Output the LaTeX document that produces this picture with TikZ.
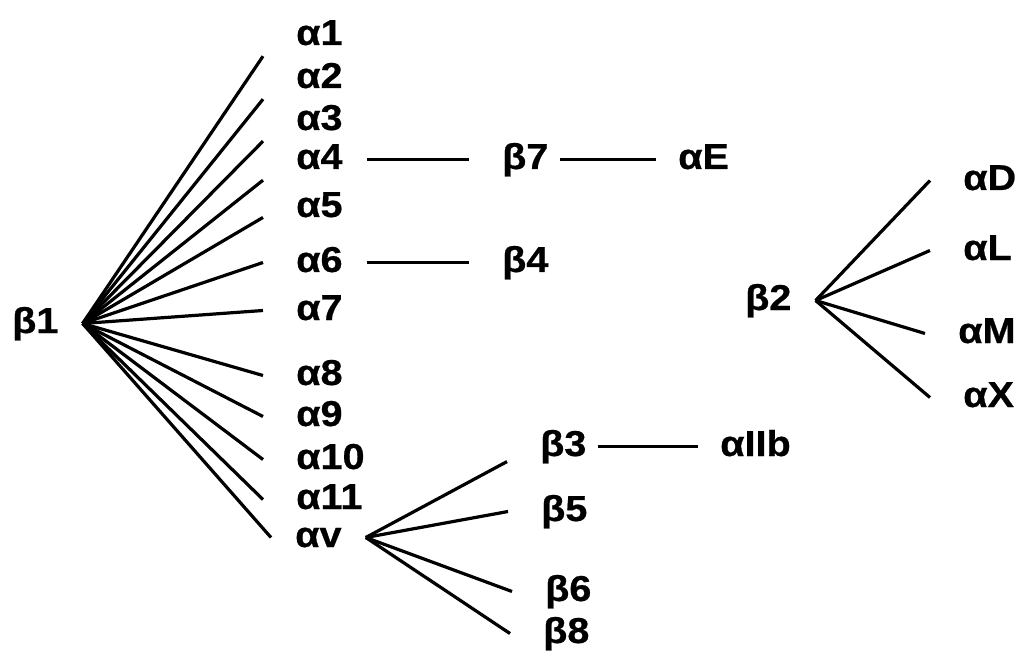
\documentclass[tikz,border=0pt]{standalone}
\usepackage{fontspec}
\setmainfont{Liberation Sans}[BoldFeatures={FakeStretch=1.1, FakeBold=0.6}]
\begin{document}
\begin{tikzpicture}[x=1pt,y=-1pt,
    lbl/.style={font=\fontsize{36}{40}\selectfont\bfseries, anchor=base west,
      inner xsep=33pt, inner ysep=3pt, text height=27pt, text depth=8pt},
    hub/.style={lbl, inner xsep=24pt},
    ln/.style={line width=3.2pt},
    bar/.style={ln, shorten <=-9pt},
    link/.style={ln, shorten <=-22pt, shorten >=-11pt}]
        \useasboundingbox (0,0) rectangle (1020,655);
        \node[hub] at (-12,333) (b1) {β1};
        \node[lbl] at (263,45)  (a1)  {α1};
        \node[lbl] at (263,88)  (a2)  {α2};
        \node[lbl] at (263,130) (a3)  {α3};
        \node[lbl] at (263,169) (a4)  {α4};
        \node[lbl] at (263,217) (a5)  {α5};
        \node[lbl] at (263,272) (a6)  {α6};
        \node[lbl] at (263,320) (a7)  {α7};
        \node[lbl] at (263,385) (a8)  {α8};
        \node[lbl] at (263,426) (a9)  {α9};
        \node[lbl] at (263,469) (a10) {α10};
        \node[lbl] at (263,509) (a11) {α11};
        \node[hub] at (271,547) (av)  {αv};
        \node[lbl] at (469,169) (b7)  {β7};
        \node[lbl] at (645,169) (aE)  {αE};
        \node[lbl] at (469,272) (b4)  {β4};
        \node[lbl] at (507,456) (b3)  {β3};
        \node[lbl] at (687,456) (aIIb) {αIIb};
        \node[lbl] at (508,521) (b5)  {β5};
        \node[lbl] at (512,601) (b6)  {β6};
        \node[lbl] at (510,643) (b8)  {β8};
        \node[hub] at (721,310) (b2)  {β2};
        \node[lbl] at (930,190) (aD)  {αD};
        \node[lbl] at (930,260) (aL)  {αL};
        \node[lbl] at (925,343) (aM)  {αM};
        \node[lbl] at (930,407) (aX)  {αX};
        \draw[ln] (b1.east) -- (a1.south west);
        \draw[ln] (b1.east) -- (a2.south west);
        \draw[ln] (b1.east) -- (a3.south west);
        \draw[ln] (b1.east) -- (a4.south west);
        \draw[ln] (b1.east) -- (a5.190);
        \draw[ln] (b1.east) -- (a6.west);
        \draw[ln] (b1.east) -- (a7.west);
        \draw[ln] (b1.east) -- (a8.west);
        \draw[ln] (b1.east) -- (a9.west);
        \draw[ln] (b1.east) -- (a10.west);
        \draw[ln] (b1.east) -- (a11.west);
        \draw[ln] (b1.east) -- (av.west);
        \draw[bar] (a4.east) -- (b7.west);
        \draw[link] (b7.east) -- (aE.west);
        \draw[bar] (a6.east) -- (b4.west);
        \draw[ln] (av.east) -- (b3.195);
        \draw[ln] (av.east) -- (b5.west);
        \draw[ln] (av.east) -- (b6.west);
        \draw[ln] (av.east) -- (b8.west);
        \draw[link] (b3.east) -- (aIIb.west);
        \draw[ln] (b2.east) -- (aD.west);
        \draw[ln] (b2.east) -- (aL.west);
        \draw[ln] (b2.east) -- (aM.west);
        \draw[ln] (b2.east) -- (aX.west);
      \end{tikzpicture}
\end{document}
